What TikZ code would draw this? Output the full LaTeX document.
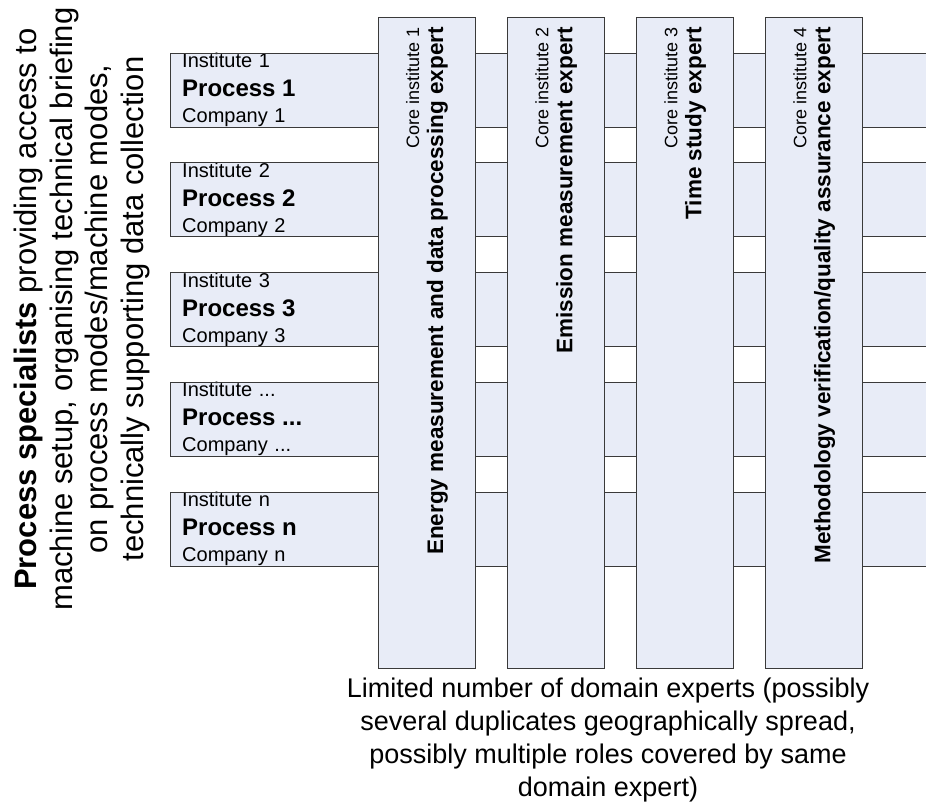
\documentclass[tikz,border=0pt]{standalone}
\usepackage{fontspec}
\setmainfont{Liberation Sans}
\usetikzlibrary{positioning}
\definecolor{bandfill}{HTML}{E8ECF7}
\definecolor{edgegray}{HTML}{3A3A3A}
\newcommand{\procfont}{\fontsize{24}{26}\selectfont\bfseries}
\newcommand{\rolefont}{\fontsize{22.5}{25}\selectfont\bfseries}

\begin{document}
\begin{tikzpicture}[x=1pt, y=-1pt,
  band/.style={fill=bandfill, anchor=north west, minimum width=756pt, minimum height=73pt,
               text width=732pt, inner xsep=12pt, inner ysep=0pt, align=left,
               font=\fontsize{20}{26}\selectfont},
  rim/.style={draw=edgegray, line width=0.9pt},
  pillar/.style={draw=edgegray, fill=bandfill, line width=1.1pt, anchor=north west,
                 minimum width=97pt, minimum height=651pt, inner sep=0pt},
  coretxt/.style={rotate=90, anchor=east, align=right, inner sep=0pt,
                  font=\fontsize{18}{24}\selectfont},
  sidenote/.style={rotate=90, align=center, inner sep=0pt,
                   font=\fontsize{31}{35.5}\selectfont},
  summary/.style={anchor=north, align=center, inner sep=0pt,
                  font=\fontsize{27}{33}\selectfont}
]
\useasboundingbox (0,0) rectangle (926,802);

% Process rows
\node[band] (row1) at (170,53)     {Institute 1\\[3pt]{\procfont Process 1}\\Company 1};
\node[band] (row2) at (170,162.75) {Institute 2\\[3pt]{\procfont Process 2}\\Company 2};
\node[band] (row3) at (170,272.5)  {Institute 3\\[3pt]{\procfont Process 3}\\Company 3};
\node[band] (row4) at (170,382.25) {Institute ...\\[3pt]{\procfont Process ...}\\Company ...};
\node[band] (row5) at (170,492)    {Institute n\\[3pt]{\procfont Process n}\\Company n};

\draw[rim] (row1.north east) -- (row1.north west) -- (row1.south west) -- (row1.south east);
\draw[rim] (row2.north east) -- (row2.north west) -- (row2.south west) -- (row2.south east);
\draw[rim] (row3.north east) -- (row3.north west) -- (row3.south west) -- (row3.south east);
\draw[rim] (row4.north east) -- (row4.north west) -- (row4.south west) -- (row4.south east);
\draw[rim] (row5.north east) -- (row5.north west) -- (row5.south west) -- (row5.south east);

% Domain expert columns
\node[pillar] (col1) at (378,17) {};
\node[pillar, right=31pt of col1.north east, anchor=north west] (col2) {};
\node[pillar, right=31pt of col2.north east, anchor=north west] (col3) {};
\node[pillar, right=31pt of col3.north east, anchor=north west] (col4) {};

\node[coretxt] (core1) at ([yshift=-10pt]col1.north)
  {Core institute 1\\{\rolefont Energy measurement and data processing expert}};
\node[coretxt] (core2) at ([yshift=-10pt]col2.north)
  {Core institute 2\\{\rolefont Emission measurement expert}};
\node[coretxt] (core3) at ([yshift=-10pt]col3.north)
  {Core institute 3\\{\rolefont Time study expert}};
\node[coretxt] (core4) at ([yshift=-10pt]col4.north)
  {Core institute 4\\{\rolefont Methodology verification/quality assurance expert}};

% Side and bottom notes
\node[sidenote] (specialists) at (82,309)
  {\textbf{Process specialists} providing access to\\
   machine setup, organising technical briefing\\
   on process modes/machine modes,\\
   technically supporting data collection};
\node[summary] (experts) at (608,678)
  {Limited number of domain experts (possibly\\
   several duplicates geographically spread,\\
   possibly multiple roles covered by same\\
   domain expert)};
\end{tikzpicture}
\end{document}
